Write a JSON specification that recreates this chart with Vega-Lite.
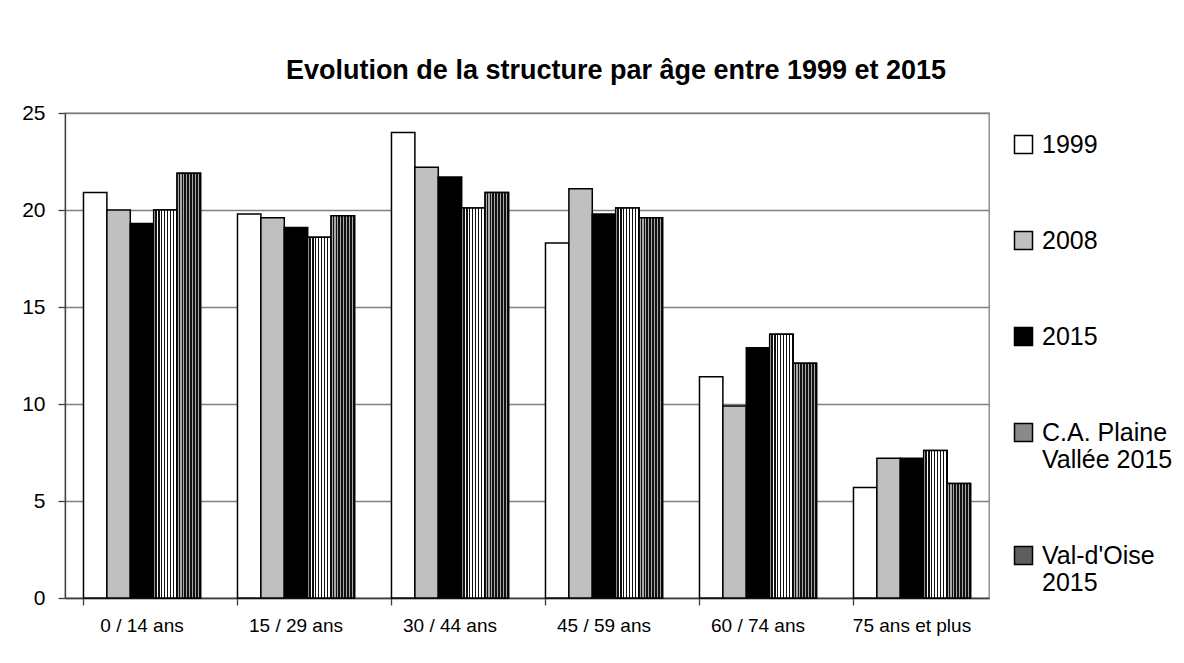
{
  "$schema": "https://vega.github.io/schema/vega-lite/v6.json",
  "autosize": "none",
  "width": 924,
  "height": 485,
  "padding": {"left": 65, "top": 113, "right": 195, "bottom": 65},
  "background": "white",
  "title": {
    "text": "Evolution de la structure par âge entre 1999 et 2015",
    "font": "Liberation Sans, Arial",
    "fontSize": 27,
    "fontWeight": "bold",
    "color": "#000000",
    "anchor": "middle",
    "frame": "group",
    "baseline": "alphabetic",
    "offset": -4,
    "dx": 89
  },
  "data": {
    "values": [
      {"age": "0 / 14 ans", "serie": "1999", "v": 20.9},
      {"age": "0 / 14 ans", "serie": "2008", "v": 20.0},
      {"age": "0 / 14 ans", "serie": "2015", "v": 19.3},
      {"age": "0 / 14 ans", "serie": "C.A. Plaine Vallée 2015", "v": 20.0},
      {"age": "0 / 14 ans", "serie": "Val-d'Oise 2015", "v": 21.9},
      {"age": "15 / 29 ans", "serie": "1999", "v": 19.8},
      {"age": "15 / 29 ans", "serie": "2008", "v": 19.6},
      {"age": "15 / 29 ans", "serie": "2015", "v": 19.1},
      {"age": "15 / 29 ans", "serie": "C.A. Plaine Vallée 2015", "v": 18.6},
      {"age": "15 / 29 ans", "serie": "Val-d'Oise 2015", "v": 19.7},
      {"age": "30 / 44 ans", "serie": "1999", "v": 24.0},
      {"age": "30 / 44 ans", "serie": "2008", "v": 22.2},
      {"age": "30 / 44 ans", "serie": "2015", "v": 21.7},
      {"age": "30 / 44 ans", "serie": "C.A. Plaine Vallée 2015", "v": 20.1},
      {"age": "30 / 44 ans", "serie": "Val-d'Oise 2015", "v": 20.9},
      {"age": "45 / 59 ans", "serie": "1999", "v": 18.3},
      {"age": "45 / 59 ans", "serie": "2008", "v": 21.1},
      {"age": "45 / 59 ans", "serie": "2015", "v": 19.8},
      {"age": "45 / 59 ans", "serie": "C.A. Plaine Vallée 2015", "v": 20.1},
      {"age": "45 / 59 ans", "serie": "Val-d'Oise 2015", "v": 19.6},
      {"age": "60 / 74 ans", "serie": "1999", "v": 11.4},
      {"age": "60 / 74 ans", "serie": "2008", "v": 9.9},
      {"age": "60 / 74 ans", "serie": "2015", "v": 12.9},
      {"age": "60 / 74 ans", "serie": "C.A. Plaine Vallée 2015", "v": 13.6},
      {"age": "60 / 74 ans", "serie": "Val-d'Oise 2015", "v": 12.1},
      {"age": "75 ans et plus", "serie": "1999", "v": 5.7},
      {"age": "75 ans et plus", "serie": "2008", "v": 7.2},
      {"age": "75 ans et plus", "serie": "2015", "v": 7.2},
      {"age": "75 ans et plus", "serie": "C.A. Plaine Vallée 2015", "v": 7.6},
      {"age": "75 ans et plus", "serie": "Val-d'Oise 2015", "v": 5.9}
    ]
  },
  "encoding": {
    "x": {
      "field": "age",
      "type": "nominal",
      "sort": ["0 / 14 ans", "15 / 29 ans", "30 / 44 ans", "45 / 59 ans", "60 / 74 ans", "75 ans et plus"],
      "scale": {"domain": ["0 / 14 ans", "15 / 29 ans", "30 / 44 ans", "45 / 59 ans", "60 / 74 ans", "75 ans et plus"], "paddingInner": 0.24, "paddingOuter": 0.12},
      "axis": {
        "title": null,
        "labelAngle": 0,
        "bandPosition": 0,
        "labelFont": "Liberation Sans, Arial",
        "labelFontSize": 19,
        "labelColor": "#000000",
        "labelPadding": 11,
        "tickSize": 7,
        "tickColor": "#404040",
        "domainColor": "#404040",
        "domainWidth": 1.3,
        "tickWidth": 1.3,
        "grid": false
      }
    },
    "xOffset": {
      "field": "serie",
      "type": "nominal",
      "scale": {"domain": ["1999", "2008", "2015", "C.A. Plaine Vallée 2015", "Val-d'Oise 2015"], "paddingInner": 0, "paddingOuter": 0}
    },
    "y": {
      "field": "v",
      "type": "quantitative",
      "scale": {"domain": [0, 25], "nice": false},
      "axis": {
        "title": null,
        "values": [0, 5, 10, 15, 20, 25],
        "labelFont": "Liberation Sans, Arial",
        "labelFontSize": 21,
        "labelColor": "#000000",
        "labelPadding": 13,
        "tickSize": 7,
        "tickColor": "#404040",
        "domainColor": "#404040",
        "domainWidth": 1.3,
        "tickWidth": 1.3,
        "grid": true,
        "gridColor": "#808080",
        "gridWidth": 1.3
      }
    }
  },
  "layer": [
    {
      "mark": {"type": "bar", "stroke": "#000000", "strokeWidth": 1.5, "opacity": 1},
      "encoding": {
        "fill": {
          "field": "serie",
          "type": "nominal",
          "scale": {
            "domain": ["1999", "2008", "2015", "C.A. Plaine Vallée 2015", "Val-d'Oise 2015"],
            "range": ["#ffffff", "#c0c0c0", "#000000", "#8a8a8a", "#5e5e5e"]
          },
          "legend": {
            "title": null,
            "orient": "none",
            "legendX": 946,
            "legendY": 19,
            "padding": 0,
            "symbolType": "square",
            "symbolSize": 324,
            "symbolStrokeColor": "#000000",
            "symbolStrokeWidth": 1.5,
            "symbolOpacity": 1,
            "labelFont": "Liberation Sans, Arial",
            "labelFontSize": 25,
            "labelColor": "#000000",
            "labelOffset": 6,
            "labelLimit": 300,
            "labelBaseline": "middle",
            "rowPadding": 70,
            "labelExpr": "datum.label === 'C.A. Plaine Vallée 2015' ? ['C.A. Plaine', 'Vallée 2015'] : datum.label === \"Val-d'Oise 2015\" ? [\"Val-d'Oise\", '2015'] : datum.label"
          }
        }
      }
    },
    {
      "transform": [{"filter": "datum.serie === 'C.A. Plaine Vallée 2015'"}],
      "mark": {
        "type": "bar", "stroke": "#000000", "strokeWidth": 1.5, "opacity": 1,
        "fill": {"gradient": "linear", "x1": 0, "y1": 0, "x2": 1, "y2": 0, "stops": [
          {"offset": 0, "color": "#ffffff"}, {"offset": 0.0625, "color": "#ffffff"},
          {"offset": 0.0625, "color": "#111111"}, {"offset": 0.125, "color": "#111111"},
          {"offset": 0.125, "color": "#ffffff"}, {"offset": 0.1875, "color": "#ffffff"},
          {"offset": 0.1875, "color": "#111111"}, {"offset": 0.25, "color": "#111111"},
          {"offset": 0.25, "color": "#ffffff"}, {"offset": 0.3125, "color": "#ffffff"},
          {"offset": 0.3125, "color": "#111111"}, {"offset": 0.375, "color": "#111111"},
          {"offset": 0.375, "color": "#ffffff"}, {"offset": 0.4375, "color": "#ffffff"},
          {"offset": 0.4375, "color": "#111111"}, {"offset": 0.5, "color": "#111111"},
          {"offset": 0.5, "color": "#ffffff"}, {"offset": 0.5625, "color": "#ffffff"},
          {"offset": 0.5625, "color": "#111111"}, {"offset": 0.625, "color": "#111111"},
          {"offset": 0.625, "color": "#ffffff"}, {"offset": 0.6875, "color": "#ffffff"},
          {"offset": 0.6875, "color": "#111111"}, {"offset": 0.75, "color": "#111111"},
          {"offset": 0.75, "color": "#ffffff"}, {"offset": 0.8125, "color": "#ffffff"},
          {"offset": 0.8125, "color": "#111111"}, {"offset": 0.875, "color": "#111111"},
          {"offset": 0.875, "color": "#ffffff"}, {"offset": 0.9375, "color": "#ffffff"},
          {"offset": 0.9375, "color": "#111111"}, {"offset": 1, "color": "#111111"}
        ]}
      }
    },
    {
      "transform": [{"filter": "datum.serie === \"Val-d'Oise 2015\""}],
      "mark": {
        "type": "bar", "stroke": "#000000", "strokeWidth": 1.5, "opacity": 1,
        "fill": {"gradient": "linear", "x1": 0, "y1": 0, "x2": 1, "y2": 0, "stops": [
          {"offset": 0, "color": "#a8a8a8"}, {"offset": 0.0625, "color": "#a8a8a8"},
          {"offset": 0.0625, "color": "#111111"}, {"offset": 0.125, "color": "#111111"},
          {"offset": 0.125, "color": "#a8a8a8"}, {"offset": 0.1875, "color": "#a8a8a8"},
          {"offset": 0.1875, "color": "#111111"}, {"offset": 0.25, "color": "#111111"},
          {"offset": 0.25, "color": "#a8a8a8"}, {"offset": 0.3125, "color": "#a8a8a8"},
          {"offset": 0.3125, "color": "#111111"}, {"offset": 0.375, "color": "#111111"},
          {"offset": 0.375, "color": "#a8a8a8"}, {"offset": 0.4375, "color": "#a8a8a8"},
          {"offset": 0.4375, "color": "#111111"}, {"offset": 0.5, "color": "#111111"},
          {"offset": 0.5, "color": "#a8a8a8"}, {"offset": 0.5625, "color": "#a8a8a8"},
          {"offset": 0.5625, "color": "#111111"}, {"offset": 0.625, "color": "#111111"},
          {"offset": 0.625, "color": "#a8a8a8"}, {"offset": 0.6875, "color": "#a8a8a8"},
          {"offset": 0.6875, "color": "#111111"}, {"offset": 0.75, "color": "#111111"},
          {"offset": 0.75, "color": "#a8a8a8"}, {"offset": 0.8125, "color": "#a8a8a8"},
          {"offset": 0.8125, "color": "#111111"}, {"offset": 0.875, "color": "#111111"},
          {"offset": 0.875, "color": "#a8a8a8"}, {"offset": 0.9375, "color": "#a8a8a8"},
          {"offset": 0.9375, "color": "#111111"}, {"offset": 1, "color": "#111111"}
        ]}
      }
    }
  ],
  "config": {
    "view": {"stroke": "#808080", "strokeWidth": 1.3}
  }
}
